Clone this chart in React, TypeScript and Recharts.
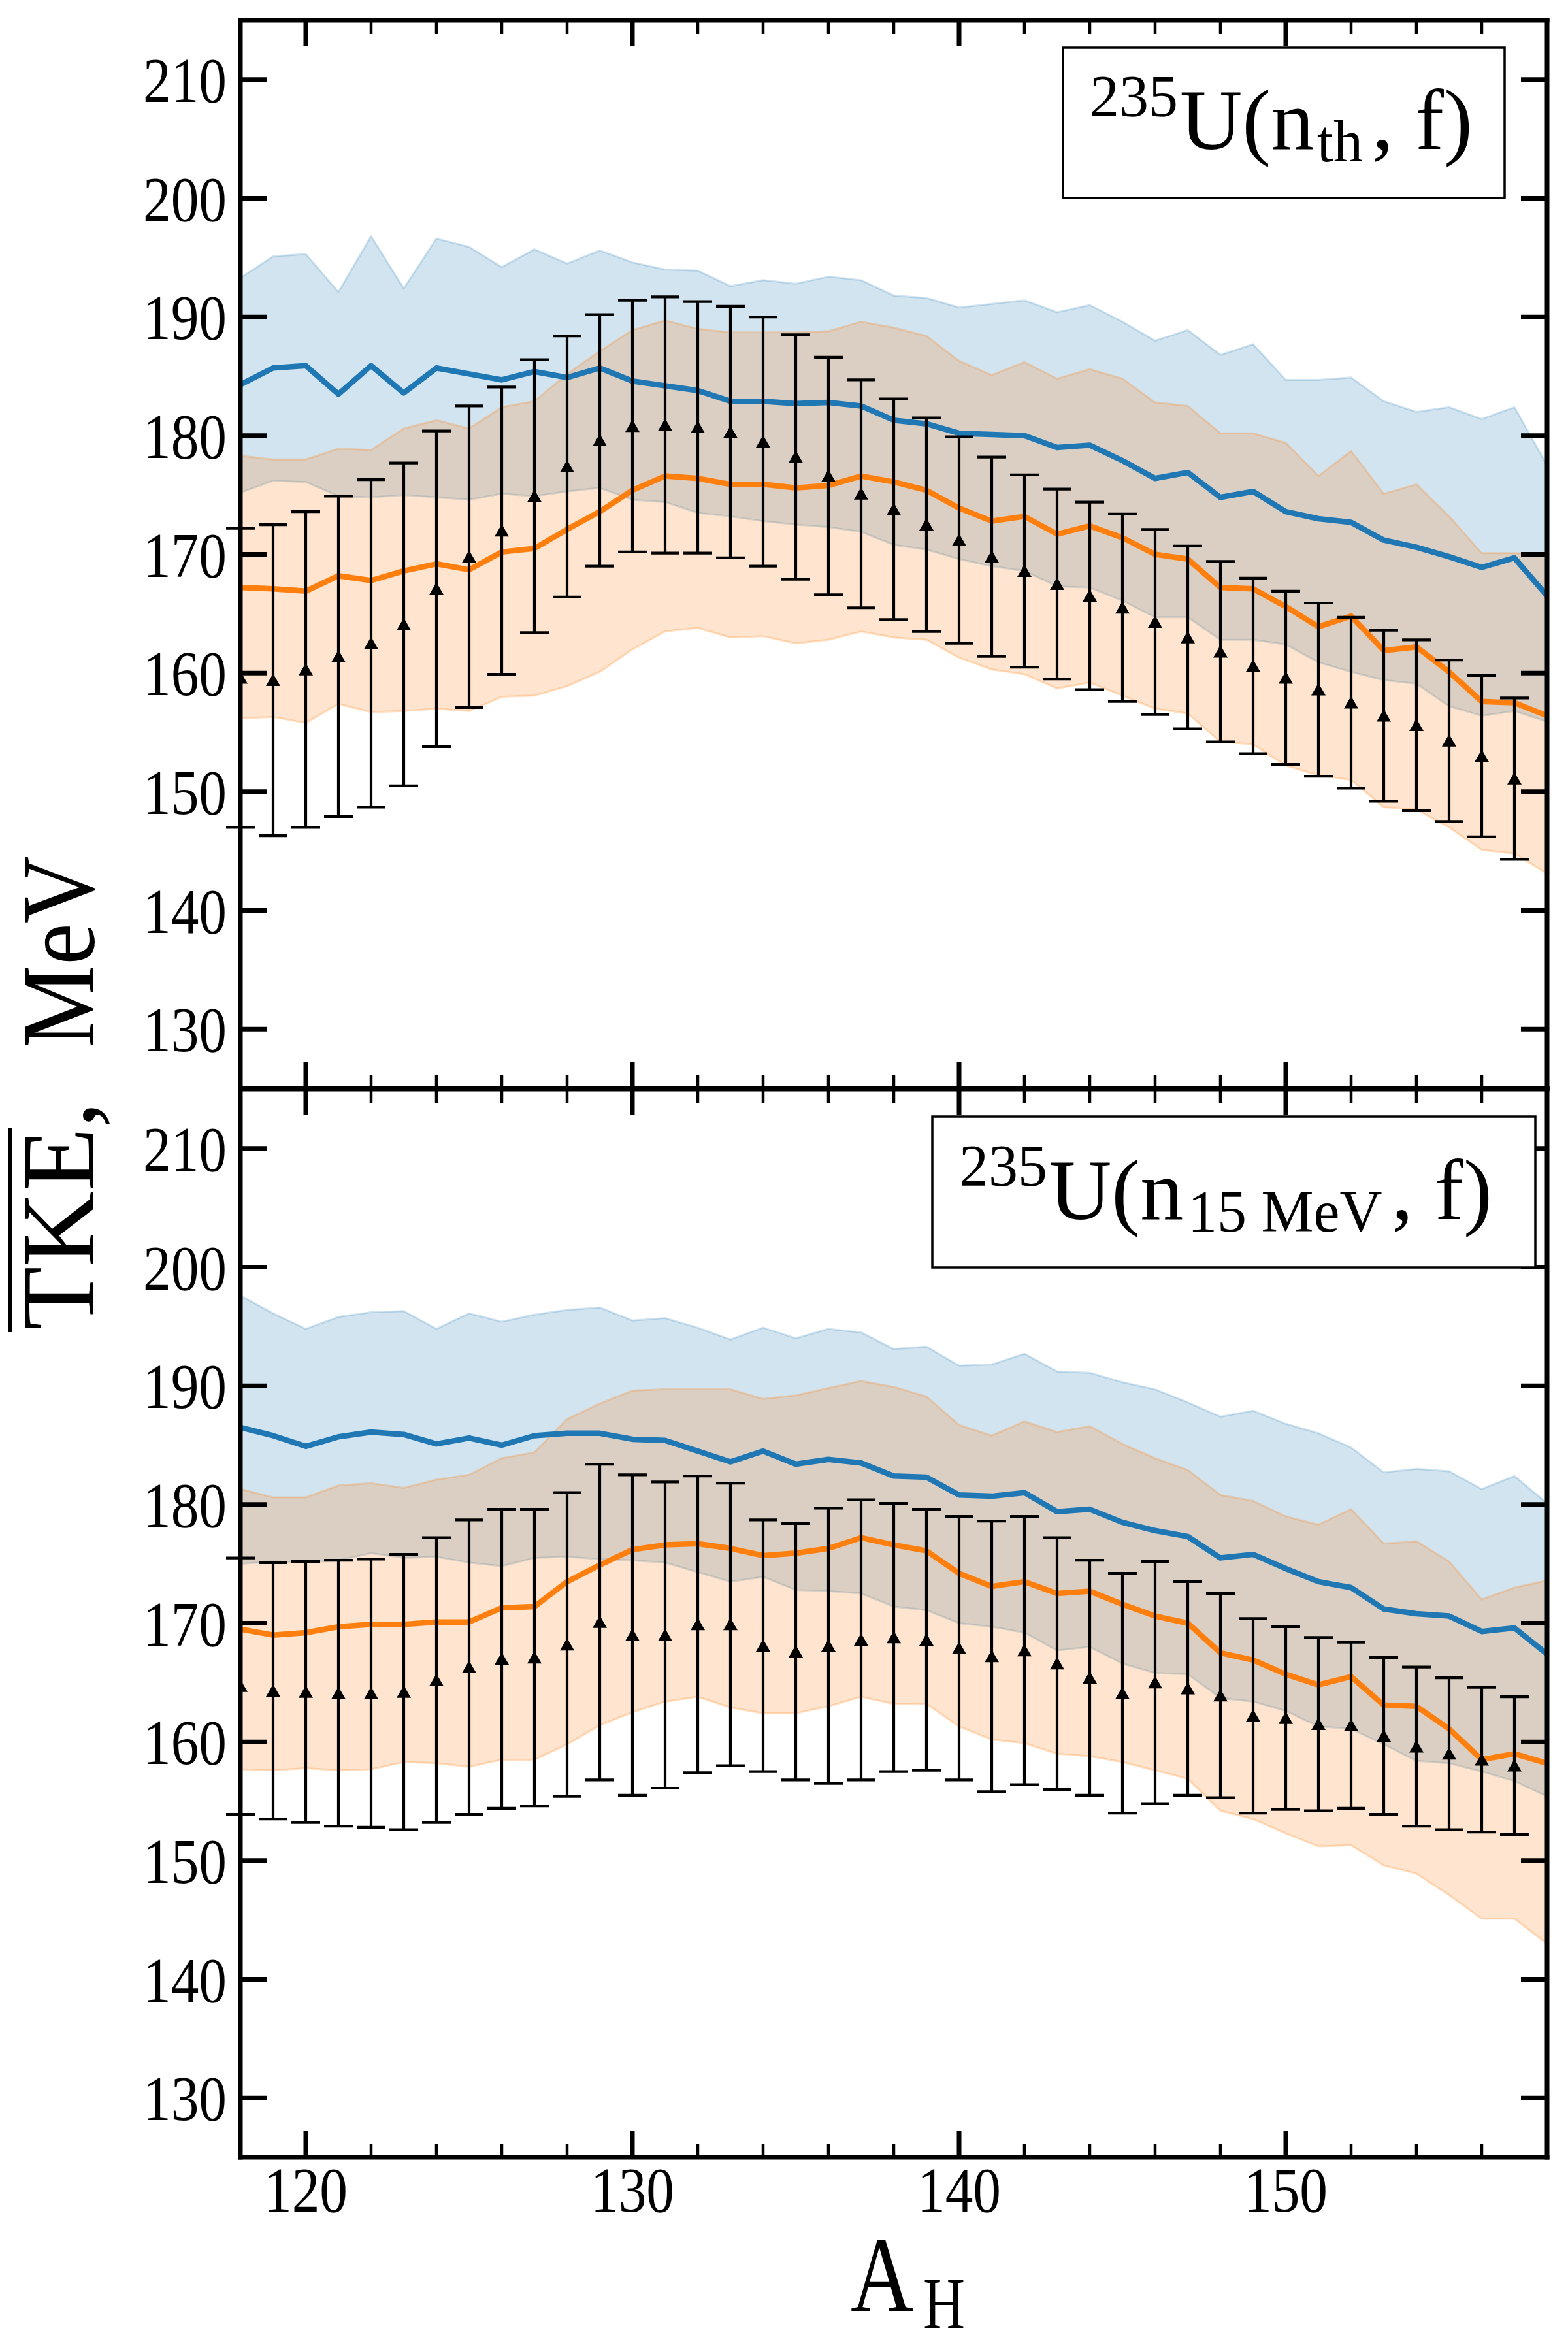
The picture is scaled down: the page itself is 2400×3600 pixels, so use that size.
import React from 'react';
import { ComposedChart, Area, Line, Scatter, ErrorBar, XAxis, YAxis } from 'recharts';

// ---------------- data ----------------
const massNumbers = [118, 119, 120, 121, 122, 123, 124, 125, 126, 127, 128, 129, 130, 131, 132, 133, 134, 135, 136, 137, 138, 139, 140, 141, 142, 143, 144, 145, 146, 147, 148, 149, 150, 151, 152, 153, 154, 155, 156, 157, 158];
const expMassNumbers = [118, 119, 120, 121, 122, 123, 124, 125, 126, 127, 128, 129, 130, 131, 132, 133, 134, 135, 136, 137, 138, 139, 140, 141, 142, 143, 144, 145, 146, 147, 148, 149, 150, 151, 152, 153, 154, 155, 156, 157];

// 235U(n_th, f)
const thBlueMean = [184.3, 185.7, 185.9, 183.5, 185.9, 183.6, 185.7, 185.2, 184.7, 185.4, 184.9, 185.7, 184.6, 184.2, 183.8, 182.9, 182.9, 182.7, 182.8, 182.5, 181.3, 181.0, 180.2, 180.1, 180.0, 179.0, 179.2, 177.9, 176.4, 176.9, 174.8, 175.3, 173.6, 173.0, 172.7, 171.2, 170.6, 169.8, 168.9, 169.7, 166.5];
const thBlueHigh = [193.3, 195.1, 195.3, 192.1, 196.8, 192.4, 196.6, 195.9, 194.2, 195.7, 194.5, 195.6, 194.6, 194.0, 193.9, 192.6, 193.1, 192.8, 193.4, 193.1, 191.8, 191.6, 190.8, 191.1, 191.4, 190.4, 191.0, 189.6, 188.0, 188.9, 186.8, 187.7, 184.7, 184.7, 184.9, 182.9, 182.0, 182.4, 181.4, 182.4, 177.5];
const thBlueLow = [175.2, 176.2, 176.1, 174.9, 174.8, 175.0, 174.8, 174.6, 175.1, 174.9, 175.3, 175.6, 174.6, 174.4, 173.5, 173.2, 172.8, 172.5, 172.3, 171.9, 170.8, 170.4, 169.6, 169.0, 168.6, 167.3, 167.2, 166.1, 164.7, 164.7, 162.8, 162.8, 162.4, 160.9, 160.1, 159.4, 159.1, 157.2, 156.4, 156.8, 155.9];
const thOrangeMean = [167.2, 167.1, 166.9, 168.2, 167.8, 168.6, 169.2, 168.7, 170.2, 170.5, 172.1, 173.6, 175.4, 176.6, 176.4, 175.9, 175.9, 175.6, 175.8, 176.6, 176.1, 175.4, 173.9, 172.8, 173.2, 171.7, 172.4, 171.4, 170.0, 169.6, 167.2, 167.1, 165.6, 163.9, 164.8, 161.9, 162.2, 160.1, 157.6, 157.5, 156.4];
const thOrangeHigh = [178.3, 178.0, 178.0, 178.9, 178.8, 180.6, 181.3, 180.6, 182.4, 182.9, 185.2, 187.1, 188.9, 189.7, 189.0, 188.7, 188.7, 188.7, 188.8, 189.6, 189.1, 188.4, 186.3, 185.1, 186.2, 184.8, 185.6, 184.8, 182.8, 182.5, 180.2, 180.2, 179.4, 176.6, 178.7, 175.1, 175.9, 173.2, 170.1, 170.1, 170.0];
const thOrangeLow = [156.2, 156.3, 155.8, 157.4, 156.7, 156.8, 157.0, 156.8, 158.0, 158.1, 158.9, 160.1, 162.0, 163.5, 163.8, 163.0, 163.1, 162.5, 162.8, 163.5, 163.0, 162.8, 161.3, 160.3, 159.9, 158.7, 159.2, 158.1, 157.0, 156.6, 154.2, 154.0, 152.2, 151.4, 151.0, 148.7, 148.5, 147.0, 145.1, 144.8, 143.1];
const thExpMean = [159.6, 159.4, 160.3, 161.4, 162.5, 164.1, 167.1, 169.8, 172.0, 174.9, 177.4, 179.6, 180.8, 180.9, 180.7, 180.3, 179.5, 178.2, 176.6, 175.1, 173.8, 172.5, 171.2, 169.8, 168.6, 167.5, 166.5, 165.5, 164.3, 163.0, 161.8, 160.6, 159.6, 158.6, 157.5, 156.4, 155.6, 154.3, 153.0, 151.1];
const thExpErr = [12.6, 13.1, 13.3, 13.5, 13.8, 13.6, 13.3, 12.7, 12.1, 11.5, 11.0, 10.6, 10.6, 10.8, 10.6, 10.6, 10.5, 10.3, 10.0, 9.6, 9.3, 9.0, 8.7, 8.4, 8.1, 8.0, 7.9, 7.9, 7.8, 7.7, 7.6, 7.4, 7.3, 7.3, 7.2, 7.2, 7.2, 6.8, 6.8, 6.8];

// 235U(n_15MeV, f)
const fBlueMean = [186.5, 185.8, 184.9, 185.7, 186.1, 185.9, 185.1, 185.6, 185.0, 185.8, 186.0, 186.0, 185.5, 185.4, 184.5, 183.6, 184.5, 183.4, 183.8, 183.5, 182.4, 182.3, 180.8, 180.7, 181.0, 179.4, 179.6, 178.5, 177.8, 177.3, 175.5, 175.8, 174.6, 173.5, 173.0, 171.2, 170.8, 170.6, 169.3, 169.6, 167.4];
const fBlueHigh = [197.6, 196.1, 194.8, 195.8, 196.2, 196.3, 194.8, 196.1, 195.4, 196.0, 196.4, 196.6, 195.5, 195.7, 194.9, 193.9, 194.9, 194.0, 194.8, 194.5, 193.1, 193.3, 191.7, 191.8, 192.7, 191.2, 191.1, 190.3, 189.7, 188.6, 187.4, 187.9, 186.8, 186.0, 184.8, 182.7, 183.0, 182.8, 181.3, 182.4, 180.1];
const fBlueLow = [175.0, 175.2, 175.1, 175.3, 175.9, 175.5, 175.6, 175.1, 174.8, 175.5, 175.6, 175.4, 175.3, 175.1, 174.3, 173.5, 173.9, 172.8, 172.7, 172.5, 171.4, 171.1, 170.0, 169.7, 169.2, 167.7, 168.0, 166.6, 165.8, 165.7, 163.7, 163.4, 162.6, 161.3, 161.1, 159.8, 158.4, 158.2, 157.5, 156.7, 155.4];
const fOrangeMean = [169.5, 169.0, 169.2, 169.7, 169.9, 169.9, 170.1, 170.1, 171.3, 171.4, 173.5, 174.9, 176.2, 176.6, 176.7, 176.3, 175.7, 175.9, 176.3, 177.2, 176.6, 176.1, 174.2, 173.1, 173.5, 172.5, 172.7, 171.6, 170.6, 170.0, 167.5, 166.9, 165.7, 164.8, 165.5, 163.1, 163.0, 161.1, 158.5, 159.0, 158.2];
const fOrangeHigh = [181.3, 180.6, 180.6, 181.6, 181.8, 181.4, 182.1, 182.5, 183.9, 184.4, 187.2, 188.5, 189.6, 189.7, 189.7, 189.7, 188.9, 189.2, 189.8, 190.4, 189.9, 189.1, 186.7, 185.8, 187.0, 186.1, 186.6, 185.1, 183.9, 182.9, 180.8, 180.3, 179.0, 178.3, 179.6, 176.7, 176.9, 175.2, 172.0, 173.0, 173.6];
const fOrangeLow = [157.7, 157.6, 157.8, 157.6, 157.7, 158.3, 158.2, 157.9, 158.5, 158.5, 159.8, 161.4, 162.5, 163.4, 163.8, 162.9, 162.4, 162.4, 163.0, 163.8, 163.2, 163.2, 161.3, 160.2, 159.9, 159.0, 158.8, 158.3, 157.6, 156.9, 154.2, 153.5, 152.3, 151.2, 151.3, 149.6, 148.9, 147.1, 145.1, 145.1, 143.0];
const fExpMean = [164.7, 164.3, 164.2, 164.1, 164.1, 164.2, 165.2, 166.3, 167.0, 167.1, 168.2, 170.1, 169.0, 169.0, 169.9, 169.9, 168.1, 167.6, 168.1, 168.6, 168.8, 168.6, 167.9, 167.2, 167.7, 166.6, 165.4, 164.1, 165.0, 164.5, 163.9, 162.2, 162.0, 161.5, 161.4, 160.5, 159.6, 159.0, 158.5, 158.0];
const fExpErr = [10.8, 10.8, 11.0, 11.2, 11.3, 11.6, 12.0, 12.4, 12.6, 12.5, 12.8, 13.3, 13.5, 12.9, 12.5, 11.9, 10.6, 10.8, 11.6, 11.8, 11.3, 11.0, 11.1, 11.4, 11.3, 10.6, 9.9, 10.1, 10.2, 9.0, 8.6, 8.2, 7.7, 7.3, 7.0, 6.6, 6.7, 6.4, 6.1, 5.8];

const xMajorTicks = [120, 130, 140, 150];
const xMinorTicks = [122, 124, 126, 128, 132, 134, 136, 138, 142, 144, 146, 148, 152, 154, 156];
const yMajorTicks = [130, 140, 150, 160, 170, 180, 190, 200, 210];

// ---------------- layout / style ----------------
const FIG_W = 2400;
const FIG_H = 3600;
const PLOT_LEFT = 368;
const PLOT_RIGHT = 2368;
const AX = 0.01; // tiny axis thickness so the axes stay on the plot edges
const X_DOMAIN = [118, 158];
const Y_DOMAIN = [125, 215];
const BLUE = '#1f77b4';
const ORANGE = '#ff7f0e';
const FONT = "'Liberation Serif', 'Times New Roman', serif";
const MAJOR_LEN = 40;
const MAJOR_W = 7;
const MINOR_LEN = 21;
const MINOR_W = 4.5;
const spine = { stroke: '#000', strokeWidth: 7, strokeLinecap: 'square' };

function buildRows(bm: number[], bl: number[], bh: number[], om: number[], ol: number[], oh: number[]) {
  return massNumbers.map((x, i) => ({
    x,
    blue: bm[i],
    blueBand: [bl[i], bh[i]],
    orange: om[i],
    orangeBand: [ol[i], oh[i]],
  }));
}
function buildExp(m: number[], e: number[]) {
  return expMassNumbers.map((x, i) => ({ x, y: m[i], err: e[i] }));
}

const thRows = buildRows(thBlueMean, thBlueLow, thBlueHigh, thOrangeMean, thOrangeLow, thOrangeHigh);
const thExp = buildExp(thExpMean, thExpErr);
const fRows = buildRows(fBlueMean, fBlueLow, fBlueHigh, fOrangeMean, fOrangeLow, fOrangeHigh);
const fExp = buildExp(fExpMean, fExpErr);

const renderTick = (side: string, len: number, sw: number, showLabel: boolean) => (p: any) => {
  const { x, y, payload } = p;
  let x2 = x;
  let y2 = y;
  if (side === 'bottom') y2 = y - len;
  else if (side === 'top') y2 = y + len;
  else if (side === 'left') x2 = x + len;
  else x2 = x - len;
  return (
    <g>
      <line x1={x} y1={y} x2={x2} y2={y2} stroke="#000" strokeWidth={sw} />
      {showLabel && side === 'left' && (
        <text x={x - 21} y={y + 34} textAnchor="end" fontFamily={FONT} fontSize={98} fill="#000"
          textLength={128} lengthAdjust="spacingAndGlyphs">{payload.value}</text>
      )}
      {showLabel && side === 'bottom' && (
        <text x={x} y={y + 83} textAnchor="middle" fontFamily={FONT} fontSize={98} fill="#000"
          textLength={128} lengthAdjust="spacingAndGlyphs">{payload.value}</text>
      )}
    </g>
  );
};

const Triangle = (p: any) => {
  const { cx, cy } = p;
  if (cx == null || cy == null) return null;
  return <polygon points={`${cx},${cy - 10} ${cx - 11},${cy + 9} ${cx + 11},${cy + 9}`} fill="#000" />;
};

function Panel(props: any) {
  const { rows, exp, top, height, mTop, mBottom, xLabels } = props;
  const common = { type: 'number', allowDataOverflow: true, tickSize: 0, tickMargin: 0, tickLine: false, interval: 0 } as any;
  return (
    <div style={{ position: 'absolute', left: 0, top, width: FIG_W, height }}>
      <ComposedChart width={FIG_W} height={height} data={rows}
        margin={{ top: mTop - 2 * AX, right: FIG_W - PLOT_RIGHT - AX, bottom: mBottom - 2 * AX, left: PLOT_LEFT - AX }}>
        <XAxis xAxisId="b" dataKey="x" orientation="bottom" domain={X_DOMAIN} ticks={xMajorTicks} height={AX}
          axisLine={spine} tick={renderTick('bottom', MAJOR_LEN, MAJOR_W, xLabels)} {...common} />
        <XAxis xAxisId="bm" dataKey="x" orientation="bottom" domain={X_DOMAIN} ticks={xMinorTicks} height={AX}
          axisLine={false} tick={renderTick('bottom', MINOR_LEN, MINOR_W, false)} {...common} />
        <XAxis xAxisId="t" dataKey="x" orientation="top" domain={X_DOMAIN} ticks={xMajorTicks} height={AX}
          axisLine={spine} tick={renderTick('top', MAJOR_LEN, MAJOR_W, false)} {...common} />
        <XAxis xAxisId="tm" dataKey="x" orientation="top" domain={X_DOMAIN} ticks={xMinorTicks} height={AX}
          axisLine={false} tick={renderTick('top', MINOR_LEN, MINOR_W, false)} {...common} />
        <YAxis yAxisId="l" orientation="left" domain={Y_DOMAIN} ticks={yMajorTicks} width={AX}
          axisLine={spine} tick={renderTick('left', MAJOR_LEN, MAJOR_W, true)} {...common} />
        <YAxis yAxisId="r" orientation="right" domain={Y_DOMAIN} ticks={yMajorTicks} width={AX}
          axisLine={spine} tick={renderTick('right', MAJOR_LEN, MAJOR_W, false)} {...common} />

        <Area xAxisId="b" yAxisId="l" type="linear" dataKey="blueBand" fill={BLUE} fillOpacity={0.2}
          stroke={BLUE} strokeOpacity={0.2} strokeWidth={3} dot={false} activeDot={false} isAnimationActive={false} />
        <Area xAxisId="b" yAxisId="l" type="linear" dataKey="orangeBand" fill={ORANGE} fillOpacity={0.2}
          stroke={ORANGE} strokeOpacity={0.25} strokeWidth={3} dot={false} activeDot={false} isAnimationActive={false} />
        <Line xAxisId="b" yAxisId="l" type="linear" dataKey="blue" stroke={BLUE} strokeWidth={8.5}
          strokeLinejoin="round" dot={false} activeDot={false} isAnimationActive={false} />
        <Line xAxisId="b" yAxisId="l" type="linear" dataKey="orange" stroke={ORANGE} strokeWidth={8.5}
          strokeLinejoin="round" dot={false} activeDot={false} isAnimationActive={false} />
        <Scatter xAxisId="b" yAxisId="l" data={exp} dataKey="y" shape={Triangle} isAnimationActive={false}>
          <ErrorBar dataKey="err" direction="y" width={22} stroke="#000" strokeWidth={4.2} isAnimationActive={false} />
        </Scatter>
      </ComposedChart>
    </div>
  );
}

function Overlay() {
  return (
    <svg width={FIG_W} height={FIG_H} style={{ position: 'absolute', left: 0, top: 0, pointerEvents: 'none' }}>
      <g fontFamily={FONT} fill="#000">
        {/* top annotation: 235U(n_th, f) */}
        <rect x={1627} y={73} width={676} height={230} fill="#fff" stroke="#000" strokeWidth={3.5} />
        <text x={1668} y={178} fontSize={90}>235</text>
        <text x={1806} y={228} fontSize={132}>U(n</text>
        <text x={2016} y={247} fontSize={90}>th</text>
        <text x={2100} y={228} fontSize={132}>, f)</text>

        {/* bottom annotation: 235U(n_15 MeV, f) */}
        <rect x={1427} y={1709} width={923} height={231} fill="#fff" stroke="#000" strokeWidth={3.5} />
        <text x={1468} y={1815} fontSize={90}>235</text>
        <text x={1606} y={1866} fontSize={132}>U(n</text>
        <text x={1818} y={1885} fontSize={90}>15 MeV</text>
        <text x={2130} y={1866} fontSize={132}>, f)</text>

        {/* y label */}
        <g transform="rotate(-90)">
          <text x={-2036} y={143} fontSize={158} textLength={350} lengthAdjust="spacingAndGlyphs">TKE,</text>
          <text x={-1604} y={143} fontSize={158} textLength={294} lengthAdjust="spacingAndGlyphs">MeV</text>
        </g>
        <line x1={15.5} y1={1726} x2={15.5} y2={2039} stroke="#000" strokeWidth={5.6} />

        {/* x label */}
        <text x={1302} y={3538} fontSize={166} textLength={96} lengthAdjust="spacingAndGlyphs">A</text>
        <text x={1413} y={3563} fontSize={113} textLength={64} lengthAdjust="spacingAndGlyphs">H</text>
      </g>
    </svg>
  );
}

export default function App() {
  return (
    <div style={{ position: 'absolute', left: 0, top: 0, width: FIG_W, height: FIG_H, background: '#fff' }}>
      <Panel rows={thRows} exp={thExp} top={0} height={1700} mTop={31} mBottom={34} xLabels={false} />
      <Panel rows={fRows} exp={fExp} top={1600} height={2000} mTop={67} mBottom={298} xLabels={true} />
      <Overlay />
    </div>
  );
}
